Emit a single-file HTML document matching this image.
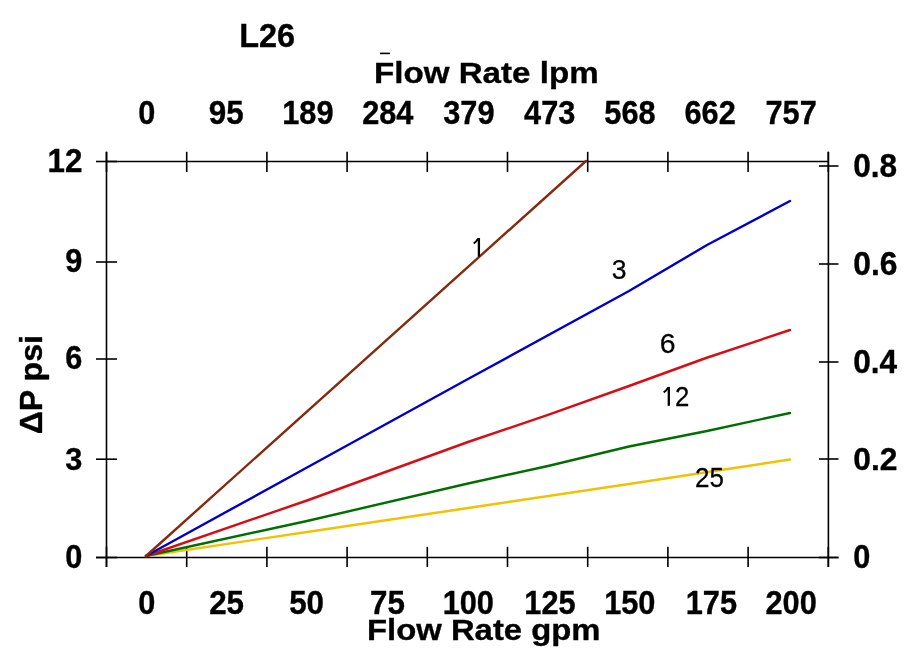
<!DOCTYPE html><html><head><meta charset="utf-8"><style>html,body{margin:0;padding:0;background:#fff;width:912px;height:657px;overflow:hidden}svg{display:block;will-change:transform}text{font-family:"Liberation Sans",sans-serif}</style></head><body>
<svg width="912" height="657" viewBox="0 0 912 657">
<rect width="912" height="657" fill="#fff"/>
<g stroke="#000" stroke-width="1.6" fill="none">
<path d="M106.5 151.8 V567 M828.4 151.8 V567 M106.5 161.5 H828.5 M96 557.5 H838.5"/>
<path d="M96 161.5 H117"/>
<path d="M96 262 H117"/>
<path d="M96 359 H117"/>
<path d="M96 459.2 H117"/>
<path d="M96 557.5 H117"/>
<path d="M819 166 H838.5"/>
<path d="M819 264 H838.5"/>
<path d="M819 362 H838.5"/>
<path d="M819 459 H838.5"/>
<path d="M819 557.5 H838.5"/>
<path d="M106.5 151.8 V172"/>
<path d="M106.5 546.8 V567"/>
<path d="M186.7 151.8 V172"/>
<path d="M186.7 546.8 V567"/>
<path d="M266.9 151.8 V172"/>
<path d="M266.9 546.8 V567"/>
<path d="M347.1 151.8 V172"/>
<path d="M347.1 546.8 V567"/>
<path d="M427.3 151.8 V172"/>
<path d="M427.3 546.8 V567"/>
<path d="M507.5 151.8 V172"/>
<path d="M507.5 546.8 V567"/>
<path d="M587.7 151.8 V172"/>
<path d="M587.7 546.8 V567"/>
<path d="M667.9 151.8 V172"/>
<path d="M667.9 546.8 V567"/>
<path d="M748.1 151.8 V172"/>
<path d="M748.1 546.8 V567"/>
<path d="M828.3 151.8 V172"/>
<path d="M828.3 546.8 V567"/>
</g>
<path d="M146 556 L307 532 L468 508 L629 484 L790 459.5" stroke="#f2c200" stroke-width="2.4" fill="none" stroke-linejoin="round" stroke-linecap="round"/>
<path d="M146 556 L307 521 L468 483.5 L548 466 L629 446.5 L707 431 L790 413" stroke="#006f00" stroke-width="2.4" fill="none" stroke-linejoin="round" stroke-linecap="round"/>
<path d="M146 556 L307 500.5 L468 442 L548 414.8 L629 386 L706 358 L790 330" stroke="#d80c14" stroke-width="2.4" fill="none" stroke-linejoin="round" stroke-linecap="round"/>
<path d="M146 556 L307 467.5 L468 379 L629 291 L707 245 L790 201" stroke="#0000c8" stroke-width="2.4" fill="none" stroke-linejoin="round" stroke-linecap="round"/>
<path d="M146 556 L586 161" stroke="#862a0e" stroke-width="2.4" fill="none" stroke-linejoin="round" stroke-linecap="round"/>
<rect x="380" y="52.6" width="10" height="1.6" fill="#000"/>
<text transform="translate(47.52 171.90) scale(0.9650 1.0000)" font-size="32.5" font-weight="bold" stroke="#000" stroke-width="0.35">12</text>
<text transform="translate(65.25 272.20) scale(0.9440 1.0130)" font-size="32.5" font-weight="bold" stroke="#000" stroke-width="0.35">9</text>
<text transform="translate(65.25 369.20) scale(0.9440 1.0000)" font-size="32.5" font-weight="bold" stroke="#000" stroke-width="0.35">6</text>
<text transform="translate(65.25 469.90) scale(0.9440 0.9870)" font-size="32.5" font-weight="bold" stroke="#000" stroke-width="0.35">3</text>
<text transform="translate(65.25 568.10) scale(0.9440 0.9957)" font-size="32.5" font-weight="bold" stroke="#000" stroke-width="0.35">0</text>
<text transform="translate(853.23 176.90) scale(0.9721 1.0000)" font-size="32.5" font-weight="bold" stroke="#000" stroke-width="0.35">0.8</text>
<text transform="translate(853.22 274.90) scale(0.9791 1.0000)" font-size="32.5" font-weight="bold" stroke="#000" stroke-width="0.35">0.6</text>
<text transform="translate(853.23 373.00) scale(0.9727 1.0043)" font-size="32.5" font-weight="bold" stroke="#000" stroke-width="0.35">0.4</text>
<text transform="translate(853.22 470.00) scale(0.9791 0.9870)" font-size="32.5" font-weight="bold" stroke="#000" stroke-width="0.35">0.2</text>
<text transform="translate(853.26 568.00) scale(0.9440 1.0043)" font-size="32.5" font-weight="bold" stroke="#000" stroke-width="0.35">0</text>
<text transform="translate(138.20 123.80) scale(0.9440 1.0000)" font-size="32.5" font-weight="bold" stroke="#000" stroke-width="0.35">0</text>
<text transform="translate(208.73 123.80) scale(0.9650 1.0000)" font-size="32.5" font-weight="bold" stroke="#000" stroke-width="0.35">95</text>
<text transform="translate(282.24 123.80) scale(0.9460 1.0000)" font-size="32.5" font-weight="bold" stroke="#000" stroke-width="0.35">189</text>
<text transform="translate(362.13 123.80) scale(0.9460 1.0000)" font-size="32.5" font-weight="bold" stroke="#000" stroke-width="0.35">284</text>
<text transform="translate(443.26 123.80) scale(0.9460 1.0000)" font-size="32.5" font-weight="bold" stroke="#000" stroke-width="0.35">379</text>
<text transform="translate(524.06 123.80) scale(0.9460 1.0000)" font-size="32.5" font-weight="bold" stroke="#000" stroke-width="0.35">473</text>
<text transform="translate(604.36 123.80) scale(0.9460 1.0000)" font-size="32.5" font-weight="bold" stroke="#000" stroke-width="0.35">568</text>
<text transform="translate(684.46 123.80) scale(0.9460 1.0000)" font-size="32.5" font-weight="bold" stroke="#000" stroke-width="0.35">662</text>
<text transform="translate(765.51 123.80) scale(0.9460 1.0000)" font-size="32.5" font-weight="bold" stroke="#000" stroke-width="0.35">757</text>
<text transform="translate(138.35 614.10) scale(0.9440 1.0043)" font-size="32.5" font-weight="bold" stroke="#000" stroke-width="0.35">0</text>
<text transform="translate(209.13 614.10) scale(0.9650 1.0043)" font-size="32.5" font-weight="bold" stroke="#000" stroke-width="0.35">25</text>
<text transform="translate(289.13 614.10) scale(0.9650 1.0043)" font-size="32.5" font-weight="bold" stroke="#000" stroke-width="0.35">50</text>
<text transform="translate(370.03 614.10) scale(0.9650 1.0043)" font-size="32.5" font-weight="bold" stroke="#000" stroke-width="0.35">75</text>
<text transform="translate(442.69 614.10) scale(0.9460 1.0043)" font-size="32.5" font-weight="bold" stroke="#000" stroke-width="0.35">100</text>
<text transform="translate(524.33 614.10) scale(0.9460 1.0043)" font-size="32.5" font-weight="bold" stroke="#000" stroke-width="0.35">125</text>
<text transform="translate(604.19 614.10) scale(0.9460 1.0043)" font-size="32.5" font-weight="bold" stroke="#000" stroke-width="0.35">150</text>
<text transform="translate(685.74 614.10) scale(0.9460 1.0043)" font-size="32.5" font-weight="bold" stroke="#000" stroke-width="0.35">175</text>
<text transform="translate(765.51 614.10) scale(0.9460 1.0043)" font-size="32.5" font-weight="bold" stroke="#000" stroke-width="0.35">200</text>
<text transform="translate(239.13 46.90) scale(0.9833 1.0261)" font-size="33" font-weight="bold" stroke="#000" stroke-width="0.35">L26</text>
<text transform="translate(373.96 82.87) scale(1.0694 0.9467)" font-size="31" font-weight="bold" stroke="#000" stroke-width="0.35">Flow Rate lpm</text>
<text transform="translate(366.98 640.07) scale(1.0599 0.9467)" font-size="31" font-weight="bold" stroke="#000" stroke-width="0.35">Flow Rate gpm</text>
<text transform="translate(41.67 434.24) rotate(-90) scale(1.0355 0.9900)" font-size="31" font-weight="bold" stroke="#000" stroke-width="0.35">&#916;P psi</text>
<text transform="translate(611.82 278.60) scale(0.9846 0.9947)" font-size="27" font-weight="normal" stroke="#000" stroke-width="0.25">3</text>
<text transform="translate(659.65 353.10) scale(1.0538 1.0105)" font-size="27" font-weight="normal" stroke="#000" stroke-width="0.25">6</text>
<text transform="translate(675.05 405.80) scale(0.9538 1.0105)" font-size="27" font-weight="normal" stroke="#000" stroke-width="0.25">2</text>
<text transform="translate(695.04 486.80) scale(0.9643 1.0053)" font-size="27" font-weight="normal" stroke="#000" stroke-width="0.25">25</text>
<path d="M478.9 256.6 V238.0" stroke="#000" stroke-width="2.3" fill="none"/><path d="M478.29999999999995 238.5 Q476.4 241.7 473.7 243.5" stroke="#000" stroke-width="1.9549999999999998" fill="none" stroke-linecap="butt"/>
<path d="M668.8 405.8 V386.90000000000003" stroke="#000" stroke-width="2.3" fill="none"/><path d="M668.1999999999999 387.40000000000003 Q666.3 390.6 663.6999999999999 392.4" stroke="#000" stroke-width="1.9549999999999998" fill="none" stroke-linecap="butt"/>
</svg></body></html>
